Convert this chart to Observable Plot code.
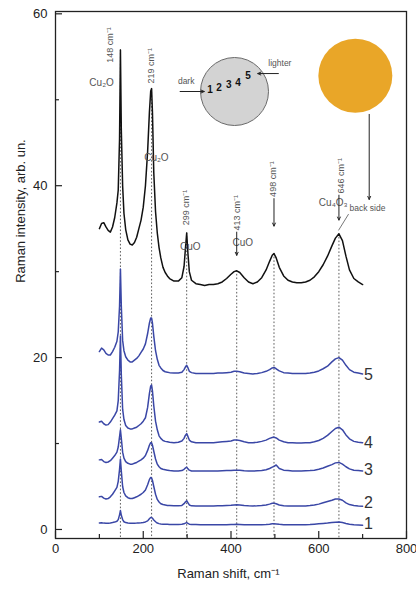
<!DOCTYPE html>
<html>
<head>
<meta charset="utf-8">
<script src="https://cdn.jsdelivr.net/npm/d3@7"></script>
<script src="https://cdn.jsdelivr.net/npm/@observablehq/plot@0.6"></script>
<style>
  html, body { margin: 0; padding: 0; background: #fff; }
  #chart svg { display: block; }
</style>
</head>
<body>
<div id="chart"></div>
<script>
// Raman shift grid (cm^-1)
const shift = [100,105,110,115,120,125,130,135,140,143,
  146,148,150,153,156,160,165,170,175,180,
  185,190,195,200,205,210,214,217,219,221,
  224,228,232,236,240,245,250,255,260,270,
  280,288,293,296,299,302,305,310,320,330,
  340,350,360,370,380,390,400,407,413,420,
  430,440,450,460,470,480,488,494,498,503,
  510,520,530,540,550,560,570,580,590,600,
  610,620,630,638,646,654,662,670,680,690,
  700];

const backSide = [35.0,35.6,35.7,35.2,34.8,34.6,35.2,36.3,38.0,39.5,
  45.5,55.8,46.5,40.0,36.8,34.9,33.7,33.2,33.1,33.4,
  34.0,35.0,36.0,37.5,40.0,44.0,48.5,51.0,51.3,48.5,
  41.5,37.0,34.5,32.8,31.6,30.5,29.9,29.5,29.2,28.9,
  28.9,29.3,30.6,32.6,34.5,32.0,30.0,29.0,28.6,28.5,
  28.4,28.5,28.5,28.6,28.8,29.2,29.7,30.0,30.1,29.9,
  29.3,28.8,28.6,28.8,29.3,30.2,31.2,31.9,32.1,31.6,
  30.5,29.5,29.0,28.8,28.7,28.7,28.8,29.0,29.4,30.0,
  30.8,31.8,33.0,33.9,34.4,33.6,31.8,30.2,29.2,28.8,
  28.5];

const spot5 = [20.7,21.1,20.9,20.5,20.3,20.3,20.7,21.2,21.9,23.0,
  26.0,30.3,26.0,22.0,20.8,20.1,19.7,19.5,19.5,19.7,
  19.9,20.2,20.6,21.0,21.6,22.8,24.0,24.6,24.6,24.0,
  22.5,20.8,19.8,19.1,18.8,18.5,18.35,18.3,18.25,18.2,
  18.2,18.3,18.6,18.9,19.1,18.8,18.4,18.25,18.15,18.15,
  18.15,18.15,18.15,18.2,18.2,18.25,18.3,18.4,18.4,18.35,
  18.2,18.15,18.1,18.15,18.25,18.4,18.6,18.8,18.85,18.7,
  18.45,18.25,18.2,18.15,18.15,18.15,18.15,18.2,18.3,18.45,
  18.7,19.0,19.5,19.85,20.0,19.7,19.1,18.6,18.3,18.2,
  18.1];

const spot4 = [12.5,12.6,12.3,12.15,12.2,12.5,12.9,13.3,13.8,15.0,
  18.5,22.5,18.0,14.0,12.8,12.1,11.8,11.7,11.7,11.8,
  11.9,12.1,12.3,12.6,13.0,14.2,15.8,16.7,16.8,16.1,
  14.4,12.6,11.6,10.9,10.6,10.35,10.25,10.2,10.15,10.1,
  10.15,10.3,10.6,10.95,11.15,10.8,10.4,10.2,10.1,10.1,
  10.1,10.1,10.1,10.15,10.2,10.25,10.3,10.4,10.4,10.35,
  10.2,10.1,10.1,10.15,10.25,10.4,10.6,10.7,10.75,10.65,
  10.4,10.2,10.1,10.1,10.05,10.05,10.1,10.1,10.2,10.35,
  10.6,10.95,11.4,11.75,11.9,11.6,11.0,10.55,10.25,10.15,
  10.1];

const spot3 = [8.1,8.15,7.9,7.8,7.85,8.0,8.3,8.6,9.0,9.6,
  10.8,11.6,10.6,9.0,8.3,7.9,7.7,7.6,7.6,7.7,
  7.8,7.95,8.1,8.3,8.6,9.2,9.8,10.1,10.1,9.8,
  9.1,8.2,7.6,7.3,7.1,7.0,6.95,6.9,6.85,6.8,
  6.8,6.85,7.0,7.15,7.25,7.05,6.9,6.8,6.8,6.8,
  6.8,6.8,6.8,6.8,6.82,6.85,6.85,6.9,6.9,6.88,
  6.82,6.8,6.8,6.82,6.85,6.95,7.1,7.25,7.35,7.5,
  7.1,6.9,6.85,6.8,6.8,6.8,6.82,6.85,6.9,7.0,
  7.15,7.35,7.55,7.75,7.8,7.6,7.3,7.05,6.9,6.85,
  6.8];

const spot2 = [3.8,3.85,3.65,3.55,3.6,3.8,4.1,4.5,4.9,5.6,
  7.0,8.2,6.8,5.0,4.3,3.9,3.7,3.6,3.6,3.7,
  3.8,3.95,4.1,4.3,4.6,5.2,5.8,6.05,6.0,5.7,
  5.0,4.1,3.5,3.2,3.0,2.9,2.85,2.8,2.78,2.75,
  2.75,2.8,3.0,3.2,3.35,3.1,2.85,2.75,2.72,2.72,
  2.72,2.72,2.74,2.75,2.77,2.8,2.82,2.86,2.87,2.84,
  2.78,2.75,2.74,2.75,2.78,2.85,2.95,3.05,3.05,3.0,
  2.85,2.75,2.72,2.72,2.72,2.72,2.74,2.78,2.85,2.95,
  3.1,3.25,3.4,3.55,3.55,3.4,3.1,2.9,2.8,2.72,
  2.7];

const spot1 = [0.75,0.78,0.74,0.72,0.73,0.76,0.8,0.86,0.95,1.15,
  1.7,2.2,1.65,1.15,0.9,0.8,0.75,0.72,0.72,0.73,
  0.74,0.76,0.78,0.82,0.88,1.0,1.25,1.4,1.4,1.3,
  1.1,0.9,0.75,0.68,0.64,0.62,0.6,0.6,0.58,0.58,
  0.58,0.6,0.66,0.74,0.8,0.7,0.62,0.58,0.57,0.56,
  0.56,0.55,0.55,0.55,0.55,0.56,0.57,0.58,0.6,0.58,
  0.56,0.55,0.55,0.55,0.56,0.58,0.62,0.66,0.68,0.65,
  0.6,0.56,0.55,0.55,0.55,0.55,0.56,0.58,0.62,0.66,
  0.7,0.74,0.8,0.85,0.86,0.8,0.7,0.62,0.56,0.53,
  0.5];

// Peak positions and labels
const peakShift = [148, 219, 299, 413, 498, 646];
const peakTop = [55.8, 51.3, 34.5, 30.1, 32.1, 34.4];
const peakLabel = ["148 cm⁻¹", "219 cm⁻¹", "299 cm⁻¹", "413 cm⁻¹", "498 cm⁻¹", "646 cm⁻¹"];
const peakLabelX = [125, 219, 297, 415, 497, 651];
const peakLabelY = [54.3, 51.9, 35.4, 34.8, 38.7, 39.1];

// Phase labels
const phaseText = ["Cu₂O", "Cu₂O", "CuO", "CuO", "Cu₄O₃"];
const phaseX = [105, 230, 307, 427, 633];
const phaseY = [52.0, 43.2, 32.9, 33.4, 38.0];
const phaseAnchor = ["middle", "start", "start", "start", "end"];

// Spectrum numbers at the right
const spotNames = ["5", "4", "3", "2", "1"];
const spotNameY = [18.0, 10.1, 6.9, 3.1, 0.6];

// Ticks
const xMajor = [0, 200, 400, 600, 800];
const xMinor = [100, 300, 500, 700];
const yMajor = [0, 20, 40, 60];
const yMinor = [10, 30, 50];

// Inset sample sketch
const sampleNumbers = ["1", "2", "3", "4", "5"];
const sampleNumX = [352, 373, 395, 416, 439];
const sampleNumY = [51.2, 51.4, 51.7, 52.0, 52.8];

const yMin = -1.05, yMax = 60.27;
const font = "'Liberation Sans', Arial, Helvetica, sans-serif";
const blue = "#3a47a6";

const curve = (vals) => shift.map((s, i) => ({x: s, y: vals[i]}));
const peaks = peakShift.map((p, i) => ({x: p, top: peakTop[i], label: peakLabel[i], lx: peakLabelX[i], ly: peakLabelY[i]}));
const phases = phaseText.map((t, i) => ({t, x: phaseX[i], y: phaseY[i], a: phaseAnchor[i]}));

const arrows = [
  {x1: 413, y1: 34.6, x2: 413, y2: 31.9},
  {x1: 498, y1: 38.5, x2: 498, y2: 35.3},
  {x1: 646, y1: 38.9, x2: 646, y2: 36.0},
  {x1: 715, y1: 48.3, x2: 715, y2: 38.4},
  {x1: 284, y1: 50.96, x2: 339, y2: 50.96},
  {x1: 508, y1: 53.05, x2: 461, y2: 53.05}
];

const chart = Plot.plot({
  width: 416,
  height: 589,
  marginLeft: 55,
  marginRight: 10,
  marginTop: 11,
  marginBottom: 51,
  style: {fontFamily: font, background: "#fff", color: "#222"},
  x: {domain: [0, 800], axis: null},
  y: {domain: [yMin, yMax], axis: null},
  marks: [
    // dotted peak guides
    Plot.ruleX(peaks, {x: "x", y1: "top", y2: yMin, stroke: "#333", strokeWidth: 0.8, strokeDasharray: "1.6,2"}),
    // spectra
    Plot.line(curve(spot1), {x: "x", y: "y", stroke: blue, strokeWidth: 1.5}),
    Plot.line(curve(spot2), {x: "x", y: "y", stroke: blue, strokeWidth: 1.5}),
    Plot.line(curve(spot3), {x: "x", y: "y", stroke: blue, strokeWidth: 1.5}),
    Plot.line(curve(spot4), {x: "x", y: "y", stroke: blue, strokeWidth: 1.5}),
    Plot.line(curve(spot5), {x: "x", y: "y", stroke: blue, strokeWidth: 1.5}),
    Plot.line(curve(backSide), {x: "x", y: "y", stroke: "#111", strokeWidth: 1.5}),
    // frame and inward ticks
    Plot.frame({stroke: "#222", strokeWidth: 1.3}),
    Plot.ruleX(xMajor, {x: d => d, y1: yMin, y2: yMin + 0.8, stroke: "#222", strokeWidth: 1.2}),
    Plot.ruleX(xMinor, {x: d => d, y1: yMin, y2: yMin + 0.47, stroke: "#222", strokeWidth: 1.2}),
    Plot.ruleY(yMajor, {y: d => d, x1: 0, x2: 16, stroke: "#222", strokeWidth: 1.2}),
    Plot.ruleY(yMinor, {y: d => d, x1: 0, x2: 9, stroke: "#222", strokeWidth: 1.2}),
    // tick labels
    Plot.text(xMajor, {x: d => d, frameAnchor: "bottom", dy: 14, text: d => String(d), fontSize: 13, fill: "#222"}),
    Plot.text(yMajor, {y: d => d, frameAnchor: "left", dx: -8, textAnchor: "end", text: d => String(d), fontSize: 13, fill: "#222"}),
    // axis titles
    Plot.text(["Raman shift, cm⁻¹"], {x: 394, frameAnchor: "bottom", dy: 39, text: d => d, fontSize: 13, fill: "#222"}),
    Plot.text(["Raman intensity, arb. un."], {y: 28.7, frameAnchor: "left", dx: -35, rotate: -90, text: d => d, fontSize: 13, fill: "#222"}),
    // peak labels
    Plot.text(peaks, {x: "lx", y: "ly", text: "label", rotate: -90, textAnchor: "start", fontSize: 9, fill: "#555"}),
    Plot.text(phases, {x: "x", y: "y", text: "t", textAnchor: d => d.a, fontSize: 10, fill: "#555"}),
    // inset: sample sketches
    Plot.dot([{x: 408, y: 50.96}], {x: "x", y: "y", r: 34, fill: "#d3d3d3", stroke: "#6a6a6a", strokeWidth: 1}),
    Plot.dot([{x: 683.4, y: 52.8}], {x: "x", y: "y", r: 37, fill: "#e9a628", stroke: "none"}),
    Plot.text(sampleNumbers, {x: (d, i) => sampleNumX[i], y: (d, i) => sampleNumY[i], text: d => d, fontSize: 10, fontWeight: "bold", fill: "#111"}),
    Plot.text(["dark"], {x: 279, y: 52.2, text: d => d, textAnchor: "start", fontSize: 8.5, fill: "#555"}),
    Plot.text(["lighter"], {x: 485, y: 54.3, text: d => d, textAnchor: "start", fontSize: 8.5, fill: "#555"}),
    Plot.text(["back side"], {x: 670, y: 37.4, text: d => d, textAnchor: "start", fontSize: 8.5, fill: "#555"}),
    Plot.link([{x1: 645, y1: 34.8, x2: 668, y2: 36.7}], {x1: "x1", y1: "y1", x2: "x2", y2: "y2", stroke: "#555", strokeWidth: 0.8}),
    Plot.arrow(arrows, {x1: "x1", y1: "y1", x2: "x2", y2: "y2", stroke: "#222", strokeWidth: 1, headLength: 5, headAngle: 50}),
    // spectrum numbers
    Plot.text(spotNames, {x: 703, y: (d, i) => spotNameY[i], text: d => d, textAnchor: "start", fontSize: 16, fill: "#333"})
  ]
});

document.getElementById("chart").appendChild(chart);
</script>
</body>
</html>
